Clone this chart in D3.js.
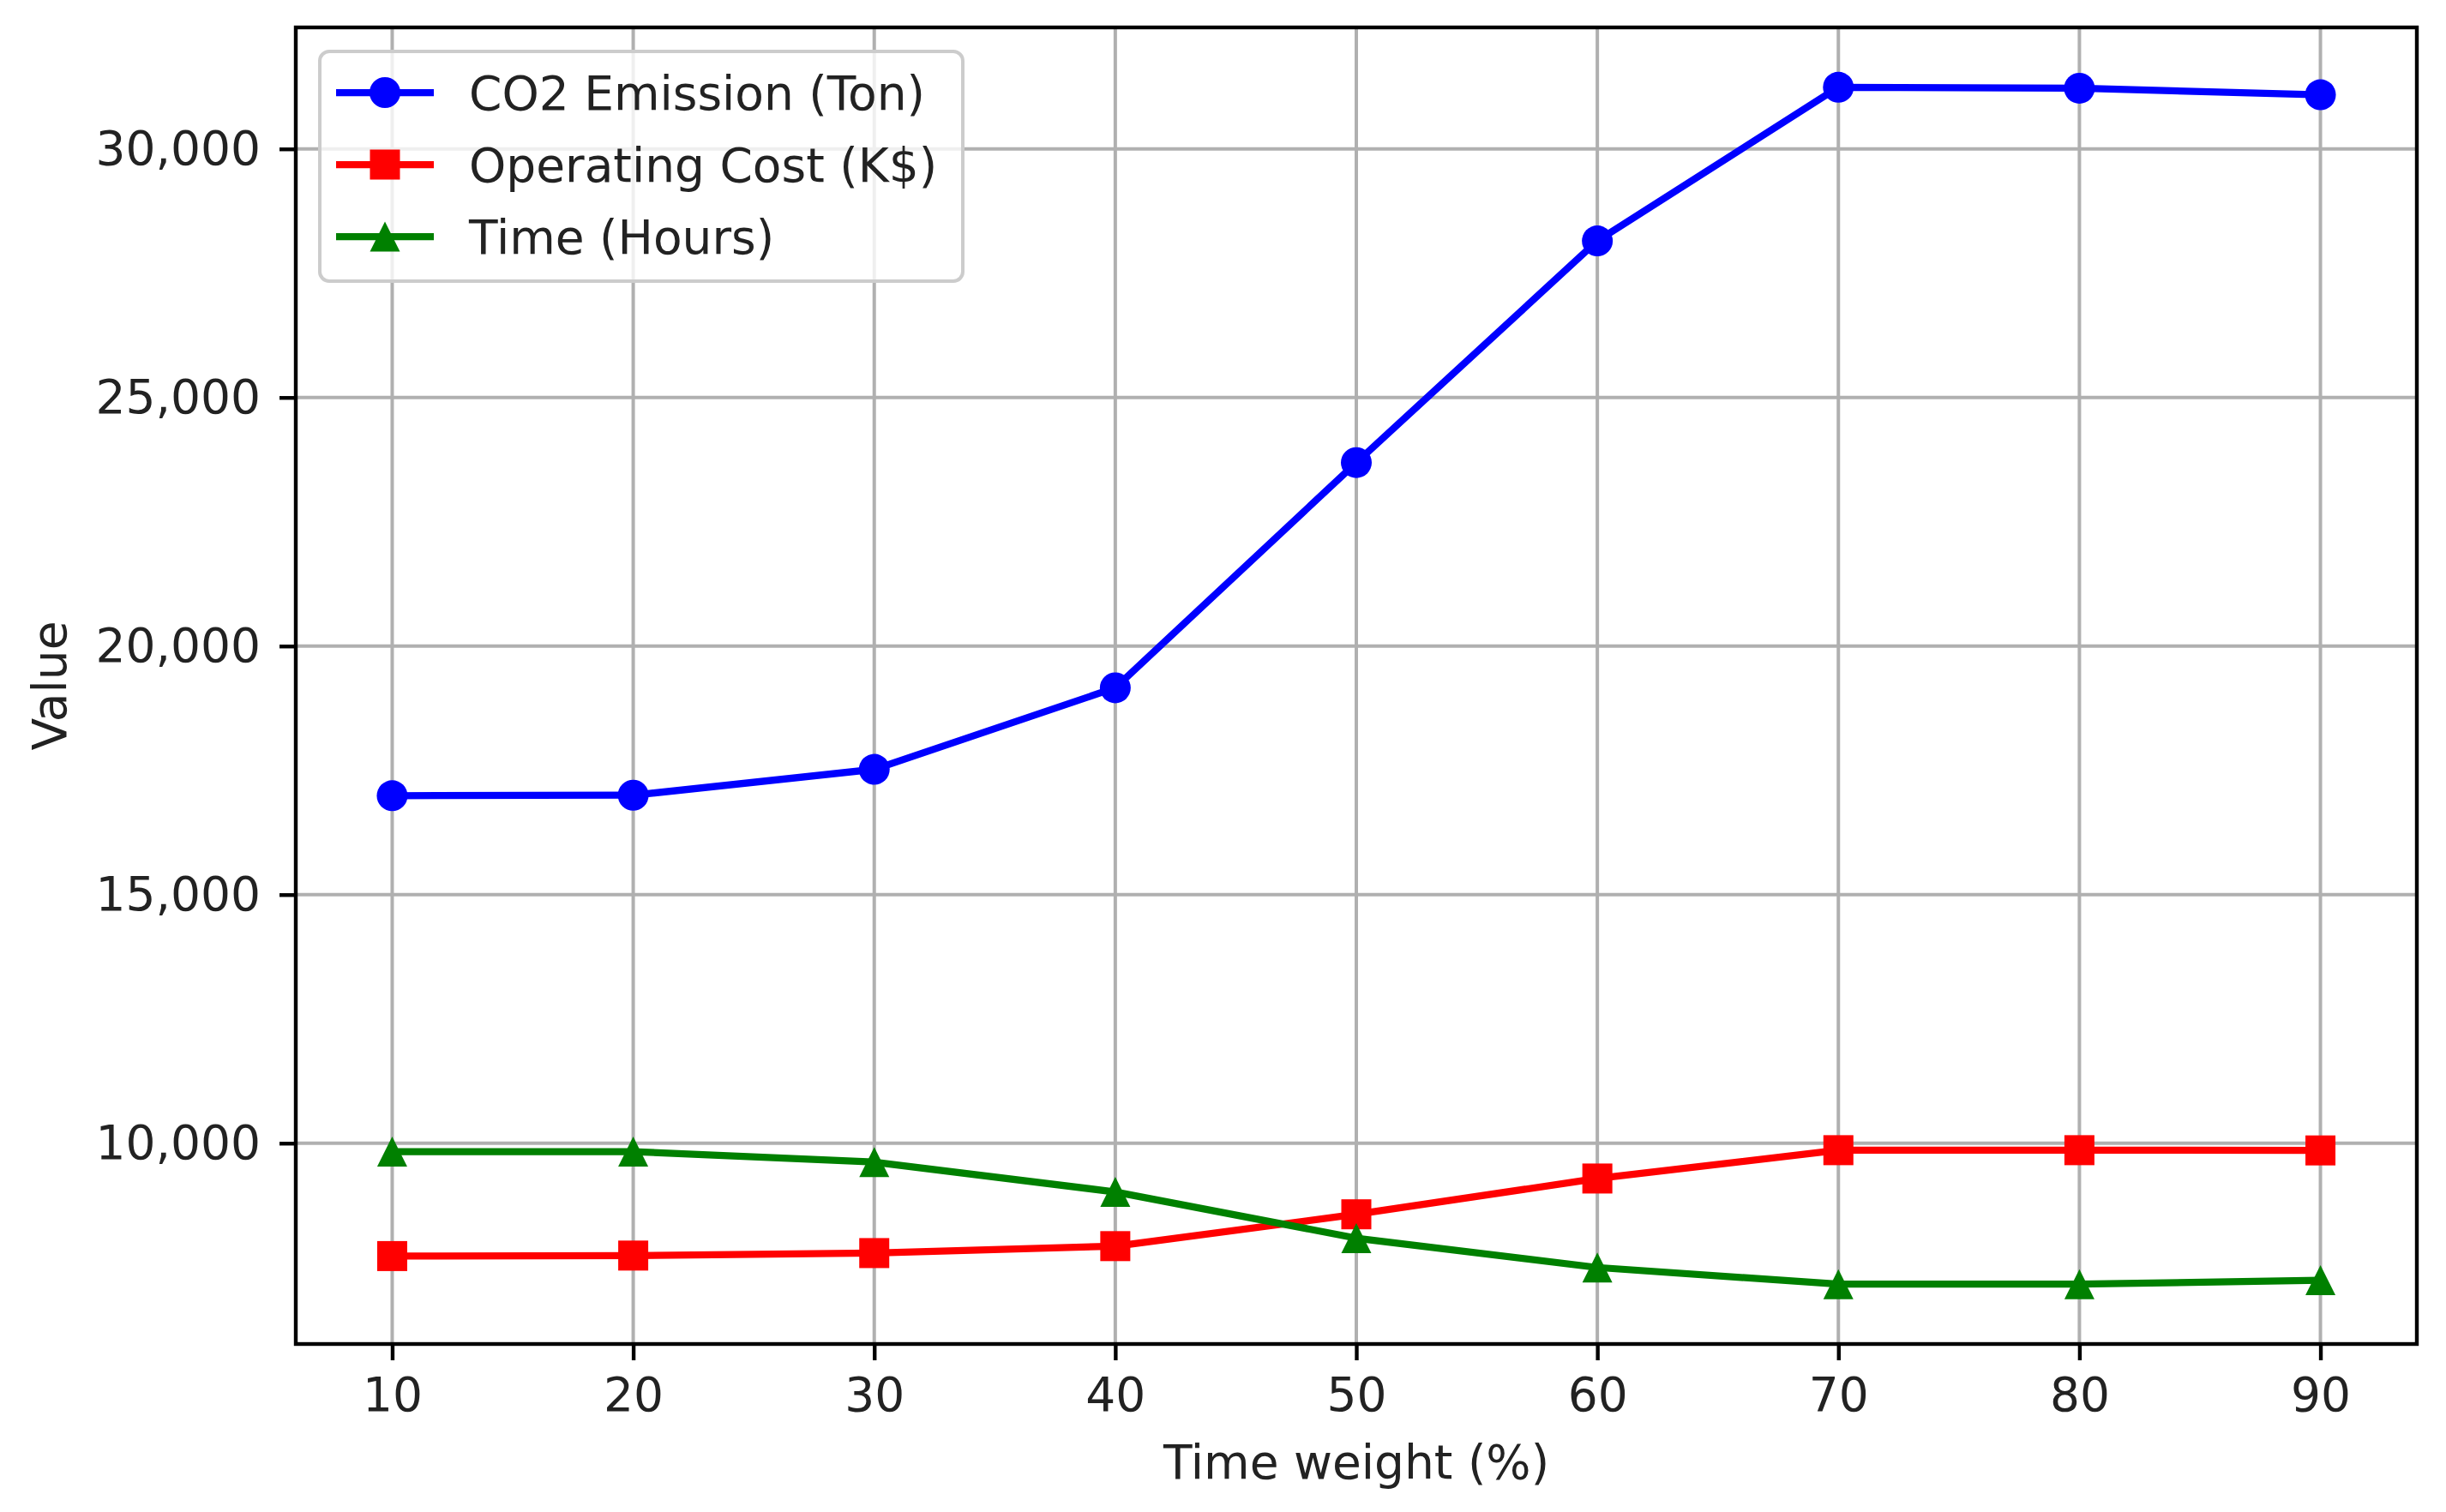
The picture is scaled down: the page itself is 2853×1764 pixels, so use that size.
<!DOCTYPE html>
<html>
<head>
<meta charset="utf-8">
<script src="https://cdn.jsdelivr.net/npm/d3@7"></script>
<style>
  body { margin: 0; background: #fff; }
  svg { display: block; font-family: "DejaVu Sans", sans-serif; }
</style>
</head>
<body>
<svg id="chart" width="2853" height="1764"></svg>
<script>
const weights = [10, 20, 30, 40, 50, 60, 70, 80, 90];
const co2 = [16990, 17000, 17520, 19160, 23690, 28150, 31240, 31220, 31090];
const cost = [7730, 7740, 7790, 7930, 8570, 9290, 9860, 9860, 9855];
const hours = [9830, 9830, 9620, 9020, 8090, 7500, 7165, 7165, 7245];
const yTicks = [10000, 15000, 20000, 25000, 30000];

const seriesList = [
  { name: "CO2 Emission (Ton)", values: co2, color: "#0000ff", marker: "circle" },
  { name: "Operating Cost (K$)", values: cost, color: "#ff0000", marker: "square" },
  { name: "Time (Hours)", values: hours, color: "#008000", marker: "triangle" },
];

const svg = d3.select("#chart");
const margin = { left: 345, right: 2819, top: 32, bottom: 1568 };
const fontSize = 55;

// matplotlib-like 5% padding
function padded(ext) {
  const r = ext[1] - ext[0];
  return [ext[0] - 0.05 * r, ext[1] + 0.05 * r];
}

const allValues = co2.concat(cost, hours);
const x = d3.scaleLinear()
  .domain(padded(d3.extent(weights)))
  .range([margin.left, margin.right]);
const y = d3.scaleLinear()
  .domain(padded(d3.extent(allValues)))
  .range([margin.bottom, margin.top]);

// grid
const grid = svg.append("g").attr("class", "grid");
grid.selectAll(".vgrid")
  .data(weights)
  .join("line")
  .attr("x1", (d) => x(d)).attr("x2", (d) => x(d))
  .attr("y1", margin.top).attr("y2", margin.bottom)
  .attr("stroke", "#b0b0b0").attr("stroke-width", 4);
grid.selectAll(".hgrid")
  .data(yTicks)
  .join("line")
  .attr("x1", margin.left).attr("x2", margin.right)
  .attr("y1", (d) => y(d)).attr("y2", (d) => y(d))
  .attr("stroke", "#b0b0b0").attr("stroke-width", 4);

// axes
const xAxis = d3.axisBottom(x).tickValues(weights).tickSize(19).tickPadding(20);
const yAxis = d3.axisLeft(y).tickValues(yTicks).tickFormat(d3.format(",")).tickSize(19).tickPadding(22);

const gx = svg.append("g")
  .attr("transform", `translate(0,${margin.bottom})`)
  .call(xAxis);
const gy = svg.append("g")
  .attr("transform", `translate(${margin.left},0)`)
  .call(yAxis);

[gx, gy].forEach((g) => {
  g.select(".domain").remove();
  g.selectAll(".tick line").attr("stroke", "#000").attr("stroke-width", 4.4);
  g.selectAll(".tick text")
    .attr("fill", "#222")
    .attr("font-size", fontSize)
    .attr("font-family", "DejaVu Sans");
});

// lines + markers
const line = d3.line()
  .x((d, i) => x(weights[i]))
  .y((d) => y(d));

const plot = svg.append("g");
const markerSize = 35;

function drawMarker(sel, type, color) {
  if (type === "circle") {
    sel.append("circle").attr("r", markerSize / 2 + 0.5).attr("fill", color);
  } else if (type === "square") {
    sel.append("rect")
      .attr("x", -markerSize / 2).attr("y", -markerSize / 2)
      .attr("width", markerSize).attr("height", markerSize)
      .attr("fill", color);
  } else {
    const h = markerSize / 2;
    sel.append("path")
      .attr("d", `M0,${-h}L${h},${h}L${-h},${h}Z`)
      .attr("fill", color);
  }
}

seriesList.forEach((s) => {
  plot.append("path")
    .datum(s.values)
    .attr("d", line)
    .attr("fill", "none")
    .attr("stroke", s.color)
    .attr("stroke-width", 8.25)
    .attr("stroke-linejoin", "round");

  plot.selectAll(null)
    .data(s.values)
    .join("g")
    .attr("transform", (d, i) => `translate(${x(weights[i])},${y(d)})`)
    .each(function () {
      drawMarker(d3.select(this), s.marker, s.color);
    });
});

// spines
svg.append("rect")
  .attr("x", margin.left).attr("y", margin.top)
  .attr("width", margin.right - margin.left)
  .attr("height", margin.bottom - margin.top)
  .attr("fill", "none")
  .attr("stroke", "#000")
  .attr("stroke-width", 4.4);

// axis labels
svg.append("text")
  .attr("x", (margin.left + margin.right) / 2)
  .attr("y", 1725)
  .attr("text-anchor", "middle")
  .attr("font-size", fontSize)
  .attr("fill", "#222")
  .text("Time weight (%)");

svg.append("text")
  .attr("transform", `translate(77,${(margin.top + margin.bottom) / 2}) rotate(-90)`)
  .attr("text-anchor", "middle")
  .attr("font-size", fontSize)
  .attr("fill", "#222")
  .text("Value");

// legend
const legend = svg.append("g");
legend.append("rect")
  .attr("x", 373).attr("y", 60)
  .attr("width", 750).attr("height", 268)
  .attr("rx", 11)
  .attr("fill", "#fff").attr("fill-opacity", 0.8)
  .attr("stroke", "#cccccc").attr("stroke-width", 4);

const rows = legend.selectAll(".row")
  .data(seriesList)
  .join("g")
  .attr("transform", (d, i) => `translate(0,${108 + i * 84})`);

rows.append("line")
  .attr("x1", 392).attr("x2", 506)
  .attr("stroke", (d) => d.color)
  .attr("stroke-width", 8.25);
rows.each(function (d) {
  const g = d3.select(this).append("g").attr("transform", "translate(449,0)");
  drawMarker(g, d.marker, d.color);
});
rows.append("text")
  .attr("x", 547)
  .attr("dy", "0.36em")
  .attr("font-size", fontSize)
  .attr("fill", "#222")
  .text((d) => d.name);
</script>
</body>
</html>
